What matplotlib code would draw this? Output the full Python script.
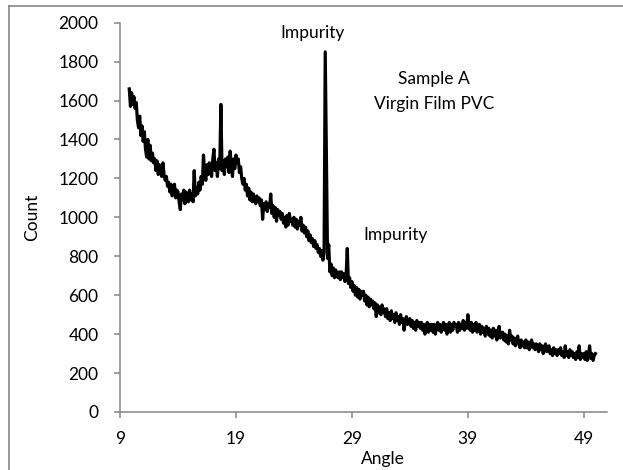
import numpy as np
import matplotlib
matplotlib.use("Agg")
import matplotlib.pyplot as plt
from matplotlib.lines import Line2D

plt.rcParams['font.family'] = ['Lato', 'DejaVu Sans']

# XRD scan at 0.1 degree steps starting at 9.8
angle_start = 9.8
angle_step = 0.1
count = [
    1660, 1570,
    1640, 1580, 1620, 1560, 1590, 1500, 1460, 1520, 1420, 1470,  # 10
    1390, 1440, 1350, 1310, 1400, 1300, 1370, 1290, 1330, 1280,  # 11
    1300, 1240, 1290, 1220, 1270, 1250, 1210, 1280, 1220, 1190,  # 12
    1210, 1160, 1180, 1130, 1170, 1110, 1150, 1170, 1100, 1140,  # 13
    1130, 1080, 1040, 1120, 1090, 1140, 1070, 1130, 1100, 1080,  # 14
    1140, 1090, 1120, 1080, 1240, 1110, 1150, 1120, 1180, 1140,  # 15
    1210, 1170, 1320, 1230, 1190, 1270, 1220, 1280, 1240, 1210,  # 16
    1300, 1350, 1240, 1280, 1210, 1300, 1250, 1580, 1240, 1290,  # 17
    1220, 1300, 1260, 1310, 1230, 1340, 1270, 1210, 1300, 1250,  # 18
    1320, 1280, 1300, 1230, 1260, 1200, 1170, 1200, 1140, 1170,  # 19
    1110, 1150, 1090, 1130, 1080, 1120, 1090, 1070, 1110, 1080,  # 20
    1100, 1060, 1090, 990, 1070, 1040, 1080, 1030, 1070, 1050,   # 21
    1120, 1020, 1060, 1000, 1050, 980, 1040, 1010, 1030, 990,    # 22
    1020, 970, 1000, 950, 1010, 960, 1020, 980, 990, 960,        # 23
    1000, 950, 990, 940, 980, 960, 1000, 930, 960, 920,          # 24
    950, 900, 930, 880, 910, 870, 890, 850, 880, 840,            # 25
    860, 820, 840, 800, 830, 780, 820, 1850, 1330, 790,          # 26
    860, 720, 760, 700, 740, 690, 730, 710, 690, 720,            # 27
    680, 720, 690, 710, 670, 700, 840, 660, 690, 640,            # 28
    670, 620, 650, 600, 640, 590, 630, 580, 620, 600,            # 29
    620, 570, 600, 550, 590, 540, 580, 550, 570, 530,            # 30
    560, 490, 550, 510, 540, 500, 550, 510, 530, 490,            # 31
    530, 480, 510, 470, 520, 480, 500, 460, 510, 470,            # 32
    490, 450, 500, 460, 480, 420, 470, 490, 450, 470,            # 33
    480, 440, 470, 430, 460, 420, 470, 440, 460, 430,            # 34
    460, 420, 450, 400, 440, 460, 410, 450, 420, 450,            # 35
    410, 450, 400, 440, 460, 420, 450, 410, 440, 460,            # 36
    420, 450, 400, 440, 460, 410, 450, 420, 460, 440,            # 37
    450, 410, 460, 420, 450, 430, 470, 420, 460, 430,            # 38
    500, 440, 420, 460, 410, 450, 420, 460, 410, 440,            # 39
    450, 400, 440, 410, 430, 390, 440, 400, 430, 390,            # 40
    420, 380, 430, 390, 420, 370, 410, 440, 380, 400,            # 41
    410, 370, 400, 360, 390, 350, 420, 370, 390, 350,            # 42
    380, 340, 370, 390, 350, 330, 370, 340, 360, 330,            # 43
    370, 330, 360, 320, 350, 370, 330, 350, 320, 350,            # 44
    340, 310, 350, 320, 340, 300, 330, 350, 310, 330,            # 45
    340, 300, 320, 290, 330, 300, 320, 290, 320, 300,            # 46
    330, 290, 310, 280, 340, 290, 310, 280, 320, 290,            # 47
    310, 280, 300, 270, 310, 280, 340, 270, 300, 280,            # 48
    300, 270, 310, 265, 290, 340, 275, 300, 265, 290,            # 49
    300,
]
angle = np.round(angle_start + angle_step * np.arange(len(count)), 1)

xticks = [9, 19, 29, 39, 49]
yticks = [0, 200, 400, 600, 800, 1000, 1200, 1400, 1600, 1800, 2000]

grey = '#868686'

fig = plt.figure(figsize=(6.23, 4.70), dpi=100)
ax = fig.add_axes([120 / 623, 1 - 412 / 470, 487 / 623, 389.3 / 470])
ax.plot(angle, count, color='black', lw=2.3)

ax.set_xlim(9, 51)
ax.set_ylim(0, 2000)
ax.set_xticks(xticks)
ax.set_yticks(yticks)
for s in ['top', 'right']:
    ax.spines[s].set_visible(False)
for s in ['left', 'bottom']:
    ax.spines[s].set_color(grey)
    ax.spines[s].set_linewidth(1.1)
ax.tick_params(axis='both', colors=grey, labelcolor='black', labelsize=12.5,
               length=4.5, width=1.1)
ax.tick_params(axis='x', pad=9)
ax.tick_params(axis='y', pad=11)

ax.text(25.6, 1947, 'Impurity', ha='center', va='center', fontsize=12.5)
ax.text(36.1, 1712, 'Sample A', ha='center', va='center', fontsize=12.5)
ax.text(36.1, 1584, 'Virgin Film PVC', ha='center', va='center', fontsize=12.5)
ax.text(32.8, 910, 'Impurity', ha='center', va='center', fontsize=12.5)

fig.text(32 / 623, 1 - 217 / 470, 'Count', rotation=90, ha='center', va='center', fontsize=12.5)
fig.text(383 / 623, 1 - 459 / 470, 'Angle', ha='center', va='center', fontsize=12.5)

# outer chart frame, cut off at the right and bottom
fig.add_artist(Line2D([9 / 623, 9 / 623], [0, 1 - 5.5 / 470], color=grey, lw=1.2))
fig.add_artist(Line2D([9 / 623, 1], [1 - 5.5 / 470, 1 - 5.5 / 470], color=grey, lw=1.2))

fig.savefig('out.png', dpi=100)
